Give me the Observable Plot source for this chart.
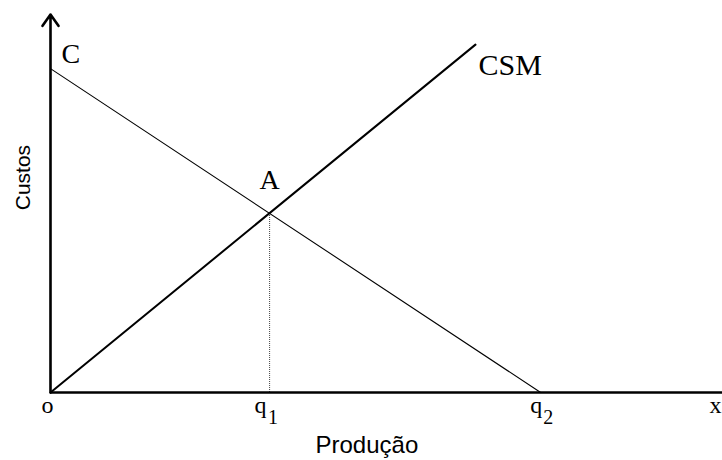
<!DOCTYPE html>
<html>
<head>
<meta charset="utf-8">
<script src="https://cdn.jsdelivr.net/npm/d3@7"></script>
<script src="https://cdn.jsdelivr.net/npm/@observablehq/plot@0.6"></script>
<style>
  html, body { margin: 0; padding: 0; background: #fff; }
</style>
</head>
<body>
<div id="chart"></div>
<script>
// Diagram values (arbitrary units)
const xMax = 13.71;          // right end of x axis
const yMax = 11.67;          // top of y axis (arrow)
const demandLine = [{x: 0, y: 10}, {x: 10, y: 0}];      // line from C to q2
const csmLine = [{x: 0, y: 0}, {x: 8.67, y: 10.74}];     // CSM line
const pointA = {x: 4.47, y: 5.53};                      // intersection A
const q1 = 4.47;
const q2 = 10;
const pointLabels = ["C", "CSM", "A"];
const tickLabels = ["o", "q", "q", "x"];
const subLabels = ["1", "2"];
const axisTitles = ["Custos", "Produção"];

const serif = "Liberation Serif, Times New Roman, serif";
const sans = "Liberation Sans, Arial, sans-serif";

const chart = Plot.plot({
  width: 722,
  height: 460,
  marginLeft: 50,
  marginRight: 0,
  marginTop: 14,
  marginBottom: 68,
  x: {domain: [0, xMax], axis: null},
  y: {domain: [0, yMax], axis: null},
  marks: [
    // dotted vertical from A to q1
    Plot.ruleX([pointA], {x: "x", y1: 0, y2: "y", stroke: "#444", strokeWidth: 1, strokeDasharray: "1,1"}),
    // C line
    Plot.line(demandLine, {x: "x", y: "y", stroke: "#000", strokeWidth: 1.1}),
    // CSM line
    Plot.line(csmLine, {x: "x", y: "y", stroke: "#000", strokeWidth: 2}),
    // axes
    Plot.ruleY([0], {x1: 0, x2: xMax, stroke: "#000", strokeWidth: 2.6}),
    Plot.arrow([0], {x1: 0, y1: 0, x2: 0, y2: yMax, stroke: "#000", strokeWidth: 2.6, headLength: 8, headAngle: 70}),
    // point labels
    Plot.text([pointLabels[0]], {x: demandLine[0].x, y: demandLine[0].y, text: d => d, textAnchor: "start", dx: 11, dy: -15, fontSize: 28, fontFamily: serif, fill: "#000"}),
    Plot.text([pointLabels[1]], {x: csmLine[1].x, y: csmLine[1].y, text: d => d, textAnchor: "start", dx: 3, dy: 21, fontSize: 30, fontFamily: serif, fill: "#000"}),
    Plot.text([pointLabels[2]], {x: pointA.x, y: pointA.y, text: d => d, dx: 0, dy: -33, fontSize: 28, fontFamily: serif, fill: "#000"}),
    // tick labels
    Plot.text([tickLabels[0]], {x: 0, y: 0, text: d => d, dx: -3, dy: 13, fontSize: 24, fontFamily: serif, fill: "#000"}),
    Plot.text([tickLabels[1]], {x: q1, y: 0, text: d => d, dx: -9, dy: 13, fontSize: 24, fontFamily: serif, fill: "#000"}),
    Plot.text([subLabels[0]], {x: q1, y: 0, text: d => d, dx: 3.5, dy: 25, fontSize: 20, fontFamily: serif, fill: "#000"}),
    Plot.text([tickLabels[2]], {x: q2, y: 0, text: d => d, dx: -4.5, dy: 13, fontSize: 24, fontFamily: serif, fill: "#000"}),
    Plot.text([subLabels[1]], {x: q2, y: 0, text: d => d, dx: 7.5, dy: 25, fontSize: 20, fontFamily: serif, fill: "#000"}),
    Plot.text([tickLabels[3]], {x: xMax, y: 0, text: d => d, dx: -7, dy: 13, fontSize: 24, fontFamily: serif, fill: "#000"}),
    // axis titles
    Plot.text([axisTitles[0]], {frameAnchor: "left", y: (yMax * 0.5 + 0.8), text: d => d, textAnchor: "middle", dx: -27, rotate: -90, fontSize: 21, fontFamily: sans, fill: "#000"}),
    Plot.text([axisTitles[1]], {x: (q1 + q2) / 2 - 0.78, y: 0, text: d => d, dy: 53, fontSize: 24, fontFamily: sans, fill: "#000"})
  ]
});
document.getElementById("chart").appendChild(chart);
</script>
</body>
</html>
